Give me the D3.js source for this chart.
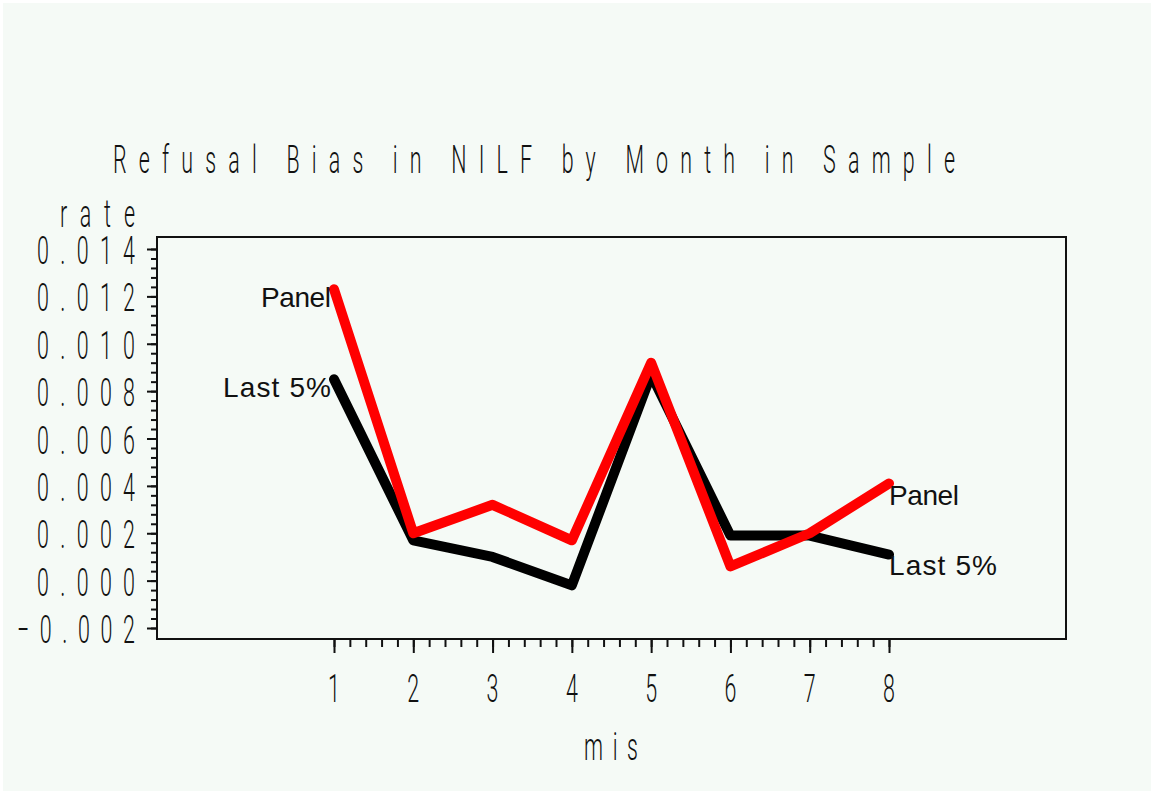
<!DOCTYPE html>
<html>
<head>
<meta charset="utf-8">
<script src="https://cdnjs.cloudflare.com/ajax/libs/d3/7.8.5/d3.min.js"></script>
<style>
  html, body { margin: 0; padding: 0; background: #ffffff; }
  svg { display: block; }
</style>
</head>
<body>
<div id="chart"></div>
<script>
// month in sample
var months = [1, 2, 3, 4, 5, 6, 7, 8];
// refusal bias
var last5 = [0.0085, 0.0017, 0.0010, -0.0002, 0.0087, 0.0019, 0.0019, 0.0011];
var panel = [0.0123, 0.0020, 0.0032, 0.0017, 0.0092, 0.0006, 0.0020, 0.0041];
var yTicks = [-0.002, 0.000, 0.002, 0.004, 0.006, 0.008, 0.010, 0.012, 0.014];
var yTickLabels = ["\u22120.002", "0.000", "0.002", "0.004", "0.006", "0.008", "0.010", "0.012", "0.014"];
var xTicks = [1, 2, 3, 4, 5, 6, 7, 8];

var W = 1151, H = 791;
var frame = {left: 157, top: 237, right: 1066, bottom: 639};

var svg = d3.select("#chart").append("svg")
    .attr("width", W)
    .attr("height", H);

// light background, white strip left/top
svg.append("rect").attr("x", 3).attr("y", 3).attr("width", W - 3).attr("height", H - 3)
    .attr("fill", "#f5faf6");

var x = d3.scaleLinear().domain([1, 8]).range([334, 889]);
var y = d3.scaleLinear().domain([-0.002, 0.014]).range([628, 249]);

// thin condensed "plotter" text
var SX = 0.55;
function stretchText(str, px, py, width, anchor) {
    var t = svg.append("text")
        .attr("transform", "translate(" + px + "," + py + ") scale(" + SX + ",1)")
        .attr("font-family", "Roboto, Lato, Liberation Sans, sans-serif")
        .attr("font-weight", 300)
        .attr("font-size", 39)
        .attr("fill", "#111")
        .attr("text-anchor", anchor || "start")
        .text(str);
    if (width) t.attr("textLength", width / SX).attr("lengthAdjust", "spacing");
    return t;
}

// title and axis names
stretchText("Refusal Bias in NILF by Month in Sample", 113, 173, 842, "start");
stretchText("rate", 135, 227, 75, "end");
stretchText("mis", 611, 760, 54, "middle");

// frame
svg.append("rect")
    .attr("x", frame.left).attr("y", frame.top)
    .attr("width", frame.right - frame.left).attr("height", frame.bottom - frame.top)
    .attr("fill", "none").attr("stroke", "#111").attr("stroke-width", 2);

// y axis ticks
var yMinor = d3.range(0, 41).map(function(i){ return -0.002 + i * 0.0004; });
svg.append("g").attr("transform", "translate(" + frame.left + ",0)")
    .call(d3.axisLeft(y).tickValues(yMinor).tickSize(6).tickFormat(""))
    .call(function(g){ g.select(".domain").remove(); });
svg.append("g").attr("transform", "translate(" + frame.left + ",0)")
    .call(d3.axisLeft(y).tickValues(yTicks).tickSize(10).tickFormat(""))
    .call(function(g){ g.select(".domain").remove(); });

// x axis ticks
var xMinor = d3.range(0, 36).map(function(i){ return 1 + i * 0.2; });
svg.append("g").attr("transform", "translate(0," + frame.bottom + ")")
    .call(d3.axisBottom(x).tickValues(xMinor).tickSize(8).tickFormat(""))
    .call(function(g){ g.select(".domain").remove(); });
svg.append("g").attr("transform", "translate(0," + frame.bottom + ")")
    .call(d3.axisBottom(x).tickValues(xTicks).tickSize(14).tickFormat(""))
    .call(function(g){ g.select(".domain").remove(); });

svg.selectAll(".tick line").attr("stroke", "#111").attr("stroke-width", 2);

// tick labels
yTicks.forEach(function(v, i){
    var s = yTickLabels[i];
    stretchText(s, 135, y(v) + 15, s.length * 20 - 2, "end");
});
xTicks.forEach(function(v){
    stretchText(String(v), x(v), 702, null, "middle");
});

// lines
var line = d3.line()
    .x(function(d){ return x(d[0]); })
    .y(function(d){ return y(d[1]); });

function drawSeries(vals, color) {
    svg.append("path")
        .datum(months.map(function(m, i){ return [m, vals[i]]; }))
        .attr("d", line)
        .attr("fill", "none")
        .attr("stroke", color)
        .attr("stroke-width", 10)
        .attr("stroke-linejoin", "round")
        .attr("stroke-linecap", "round");
}
drawSeries(last5, "#000000");
drawSeries(panel, "#ff0000");

// series labels
function seriesLabel(str, px, py, anchor, width) {
    svg.append("text")
        .attr("x", px).attr("y", py)
        .attr("font-family", "Liberation Sans, Arial, sans-serif")
        .attr("font-size", 28)
        .attr("fill", "#111")
        .attr("text-anchor", anchor)
        .attr("textLength", width)
        .attr("lengthAdjust", "spacing")
        .text(str);
}
seriesLabel("Panel", x(1) - 3, y(panel[0]) + 18, "end", 70);
seriesLabel("Last 5%", x(1) - 3, y(last5[0]) + 18, "end", 108);
seriesLabel("Panel", x(8), y(panel[7]) + 21, "start", 70);
seriesLabel("Last 5%", x(8), y(last5[7]) + 20, "start", 108);
</script>
</body>
</html>
